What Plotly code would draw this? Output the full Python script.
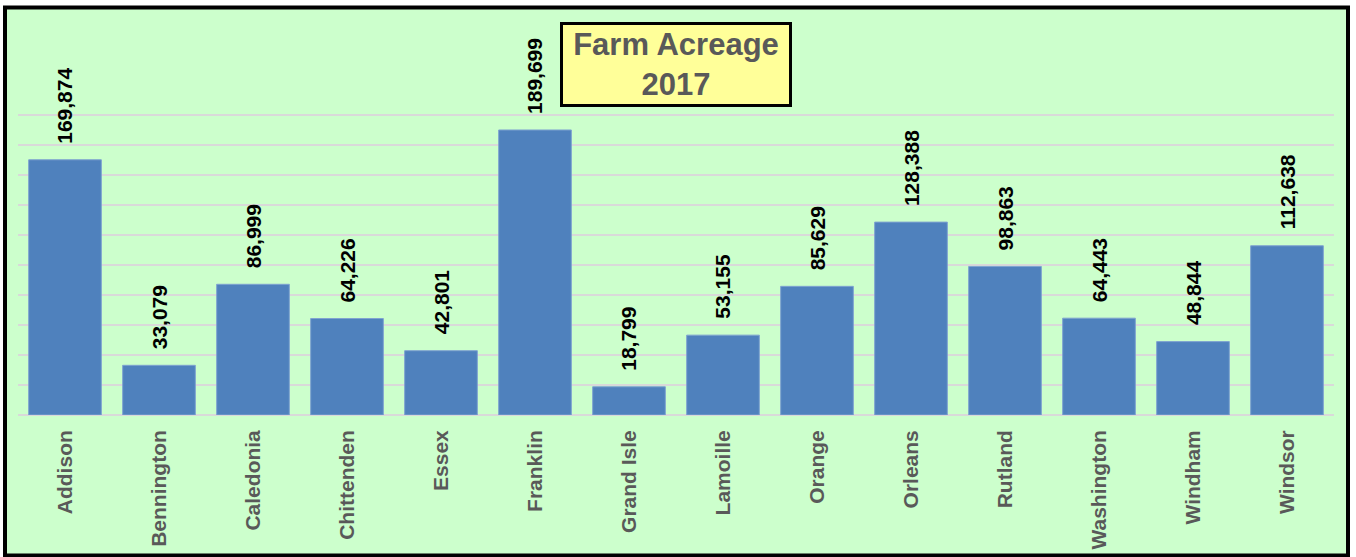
import plotly.graph_objects as go

counties = ["Addison", "Bennington", "Caledonia", "Chittenden", "Essex", "Franklin",
            "Grand Isle", "Lamoille", "Orange", "Orleans", "Rutland", "Washington",
            "Windham", "Windsor"]
acreage = [169874, 33079, 86999, 64226, 42801, 189699, 18799, 53155, 85629,
           128388, 98863, 64443, 48844, 112638]
title_lines = ["Farm Acreage", "2017"]

FONT = "Arial, 'Liberation Sans', sans-serif"
GREEN = "#CCFFCC"
GREY = "#595959"

fig = go.Figure()
fig.add_trace(go.Bar(
    x=counties, y=acreage,
    marker=dict(color="#4F81BD", line=dict(color="#7FA3D0", width=1)),
    hoverinfo="x+y",
))

for c, v in zip(counties, acreage):
    fig.add_annotation(
        x=c, y=v, xref="x", yref="y",
        text=f"<b>{v:,}</b>", showarrow=False,
        textangle=-90, yanchor="bottom", xanchor="center", yshift=14,
        font=dict(family=FONT, size=21, color="black"),
    )

L, R, T, B = 18, 22, 113, 142
W, H = 1356, 557
pw, ph = W - L - R, H - T - B

def px_x(p):
    return (p - L) / pw

def px_y(p):
    return (H - B - p) / ph

fig.add_annotation(
    xref="paper", yref="paper", x=px_x(676), y=px_y(64.5),
    xanchor="center", yanchor="middle", showarrow=False,
    text="<b>" + "<br>".join(title_lines) + "</b>",
    font=dict(family=FONT, size=31, color=GREY),
    bgcolor="#FFFF99", bordercolor="black", borderwidth=3, borderpad=1,
    width=224, height=77,
)

fig.add_shape(
    type="rect", xref="paper", yref="paper",
    x0=px_x(5), x1=px_x(1348), y0=px_y(555.5), y1=px_y(7.5),
    line=dict(color="black", width=4), fillcolor=GREEN, layer="below",
)

fig.update_layout(
    template="none",
    width=W, height=H,
    margin=dict(l=L, r=R, t=T, b=B, pad=0, autoexpand=False),
    paper_bgcolor="white", plot_bgcolor=GREEN,
    bargap=0.227, showlegend=False,
    font=dict(family=FONT),
)
fig.update_xaxes(
    automargin=False,
    tickangle=-90, tickfont=dict(family=FONT, size=21, color=GREY),
    showgrid=False, showline=False, ticks="", ticklabelstandoff=10,
    tickprefix="<b>", ticksuffix="</b>", zeroline=False,
)
fig.update_yaxes(
    automargin=False,
    range=[0, 201000], dtick=20000, showticklabels=False,
    showgrid=True, gridcolor="#D9D9D9", gridwidth=2,
    zeroline=True, zerolinecolor="#D9D9D9", zerolinewidth=2,
    showline=False, ticks="",
)

fig.write_html(
    "out.html",
    config={"displayModeBar": False},
    post_script="document.body.style.margin='0';document.body.style.overflow='hidden';",
)
